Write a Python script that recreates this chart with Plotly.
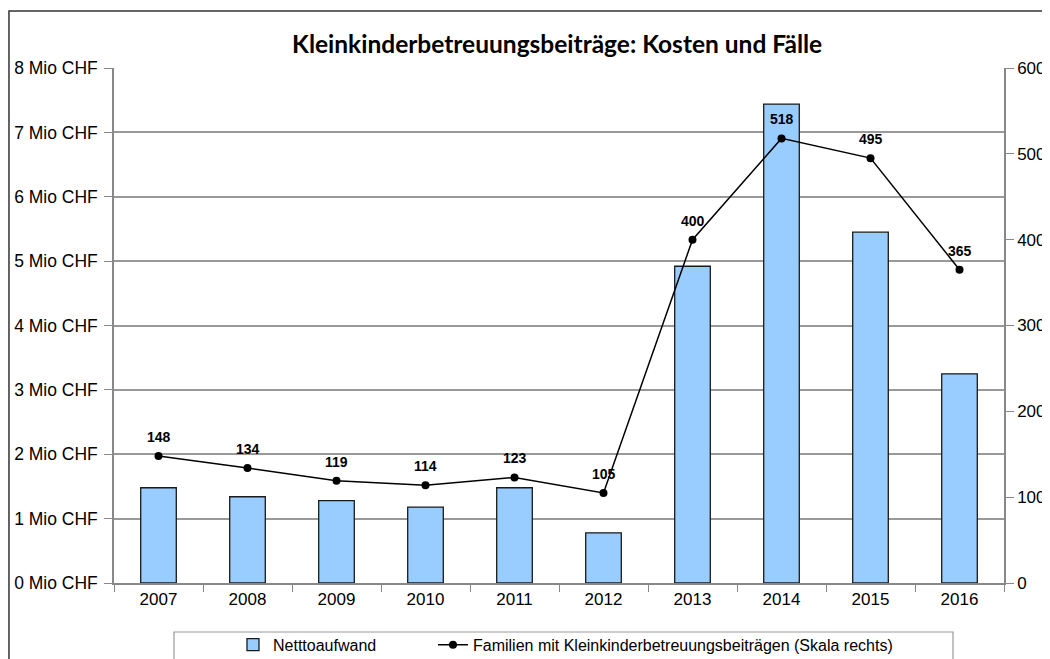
import plotly.graph_objects as go

years = ["2007", "2008", "2009", "2010", "2011", "2012", "2013", "2014", "2015", "2016"]
netto_mio = [1.48, 1.34, 1.28, 1.18, 1.48, 0.78, 4.92, 7.44, 5.45, 3.25]
familien = [148, 134, 119, 114, 123, 105, 400, 518, 495, 365]
left_ticks = [0, 1, 2, 3, 4, 5, 6, 7, 8]
left_labels = [f"{v} Mio CHF" for v in left_ticks]
right_ticks = [0, 100, 200, 300, 400, 500, 600]

fig = go.Figure()
fig.add_trace(go.Bar(
    x=years, y=netto_mio, name="Netttoaufwand",
    marker=dict(color="#99ccff", line=dict(color="#1a1a1a", width=1.3)),
    width=0.4, yaxis="y", legend="legend",
))
fig.add_trace(go.Scatter(
    x=years, y=familien, name="Familien mit Kleinkinderbetreuungsbeiträgen (Skala rechts)",
    mode="lines+markers", yaxis="y2", legend="legend2",
    line=dict(color="black", width=1.5),
    marker=dict(color="black", size=8),
))

annotations = [
    dict(x=i, y=v, xref="x", yref="y2", text=f"<b>{v}</b>", showarrow=False,
         yshift=19, font=dict(family="Liberation Sans", size=14, color="black"))
    for i, v in enumerate(familien)
]

tickfont = dict(family="Liberation Sans", size=17, color="black")
legfont = dict(family="Liberation Sans", size=16, color="black")

# page body has an 8px margin: figure is 1042x651 placed at (8, 8)
fig.update_layout(
    width=1042, height=651,
    margin=dict(l=106, r=46, t=60, b=76, autoexpand=False),
    paper_bgcolor="white", plot_bgcolor="white",
    title=dict(text="<b>Kleinkinderbetreuungsbeiträge: Kosten und Fälle</b>",
               x=0.527, xanchor="center", y=0.944, yanchor="middle",
               font=dict(family="Lato", size=24.5, color="black")),
    xaxis=dict(type="category", showline=True, linecolor="#888888", linewidth=1.5,
               ticks="outside", tickson="boundaries", ticklen=7, tickcolor="#888888",
               tickfont=tickfont, automargin=False,
               showgrid=False, range=[-0.5, 9.5]),
    yaxis=dict(range=[0, 8], tickvals=left_ticks, ticktext=left_labels,
               showline=True, linecolor="#888888", linewidth=1.5,
               ticks="outside", ticklen=8, tickcolor="#888888",
               showgrid=True, gridcolor="#999999", gridwidth=1.5,
               tickfont=dict(family="Liberation Sans", size=17.5, color="black"),
               ticklabelstandoff=3, automargin=False, zeroline=False),
    yaxis2=dict(range=[0, 600], tickvals=right_ticks, overlaying="y", side="right",
                showline=True, linecolor="#888888", linewidth=1.5,
                ticks="outside", ticklen=8, tickcolor="#888888",
                showgrid=False, zeroline=False, automargin=False,
                tickfont=tickfont),
    barmode="overlay",
    showlegend=True,
    legend=dict(orientation="h", x=0.1337, xanchor="left", y=-0.12, yanchor="middle",
                font=legfont, bgcolor="rgba(0,0,0,0)"),
    legend2=dict(orientation="h", x=0.3584, xanchor="left", y=-0.12, yanchor="middle",
                 font=legfont, bgcolor="rgba(0,0,0,0)"),
    annotations=annotations,
    shapes=[
        dict(type="rect", xref="paper", yref="paper", x0=-0.118, x1=1.3, y0=-0.4, y1=1.1107,
             line=dict(color="#333333", width=1.5), fillcolor="rgba(0,0,0,0)", layer="below"),
        dict(type="rect", xref="paper", yref="paper", x0=0.0674, x1=0.9427, y0=-0.3, y1=-0.0951,
             line=dict(color="#999999", width=1.2), fillcolor="rgba(0,0,0,0)", layer="below"),
    ],
)

fig.write_html("out.html")
